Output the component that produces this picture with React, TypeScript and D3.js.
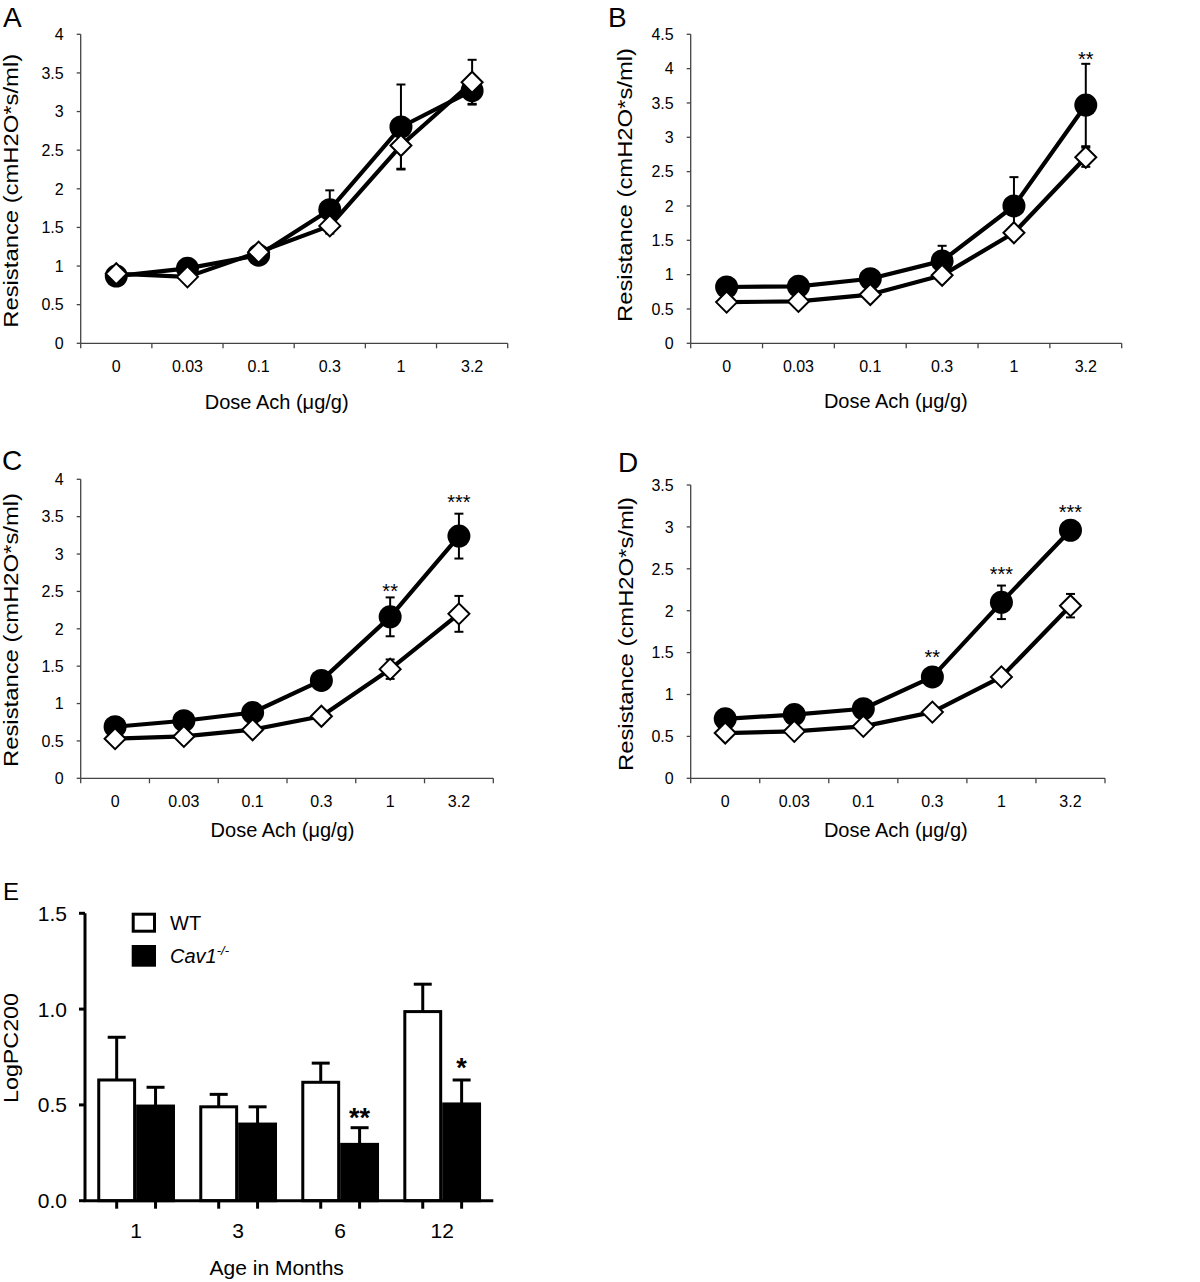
import React from 'react';
import * as d3 from 'd3';

const FONT = '"Liberation Sans", Arial, Helvetica, sans-serif';

const doses = ['0', '0.03', '0.1', '0.3', '1', '3.2'];

// Panel A
const aKO = [0.87, 0.97, 1.14, 1.73, 2.8, 3.27];
const aKOErr = [0.05, 0.05, 0.05, 0.25, 0.55, 0.17];
const aWT = [0.9, 0.86, 1.18, 1.52, 2.56, 3.38];
const aWTErr = [0.05, 0.05, 0.05, 0.1, 0.3, 0.29];
const aStars: { dose: string; text: string; y: number }[] = [];

// Panel B
const bKO = [0.82, 0.83, 0.94, 1.2, 2.0, 3.47];
const bKOErr = [0.03, 0.03, 0.05, 0.22, 0.42, 0.6];
const bWT = [0.6, 0.61, 0.71, 0.99, 1.61, 2.71];
const bWTErr = [0.03, 0.03, 0.03, 0.05, 0.07, 0.14];
const bStars = [{ dose: '3.2', text: '**', y: 4.21 }];

// Panel C
const cKO = [0.69, 0.77, 0.88, 1.31, 2.16, 3.24];
const cKOErr = [0.04, 0.04, 0.05, 0.06, 0.26, 0.3];
const cWT = [0.53, 0.56, 0.65, 0.83, 1.46, 2.2];
const cWTErr = [0.03, 0.03, 0.04, 0.05, 0.13, 0.24];
const cStars = [
  { dose: '1', text: '**', y: 2.57 },
  { dose: '3.2', text: '***', y: 3.76 },
];

// Panel D
const dKO = [0.71, 0.76, 0.83, 1.21, 2.1, 2.96];
const dKOErr = [0.04, 0.04, 0.05, 0.07, 0.2, 0.06];
const dWT = [0.54, 0.56, 0.62, 0.79, 1.21, 2.06];
const dWTErr = [0.03, 0.03, 0.04, 0.04, 0.05, 0.14];
const dStars = [
  { dose: '0.3', text: '**', y: 1.5 },
  { dose: '1', text: '***', y: 2.49 },
  { dose: '3.2', text: '***', y: 3.23 },
];

// Panel E
const ages = ['1', '3', '6', '12'];
const eWT = [0.63, 0.49, 0.618, 0.987];
const eWTErr = [0.223, 0.065, 0.1, 0.143];
const eKO = [0.494, 0.4, 0.294, 0.505];
const eKOErr = [0.098, 0.09, 0.087, 0.125];
const eStars = [
  { age: '6', text: '**', y: 0.465 },
  { age: '12', text: '*', y: 0.725 },
];
const eTicks = [0, 0.5, 1.0, 1.5];

type PanelProps = {
  letter: string;
  letterX: number;
  letterY: number;
  x0: number;
  x1: number;
  yTop: number;
  yBottom: number;
  yMax: number;
  ko: number[];
  koErr: number[];
  wt: number[];
  wtErr: number[];
  stars: { dose: string; text: string; y: number }[];
  xLabelX: number;
  xLabelY: number;
  yLabelX: number;
  yLabelY: number;
};

function DosePanel(p: PanelProps) {
  const x = d3.scaleBand<string>().domain(doses).range([p.x0, p.x1]).padding(0);
  const bw = x.bandwidth();
  const cx = (d: string) => (x(d) as number) + bw / 2;
  const y = d3.scaleLinear().domain([0, p.yMax]).range([p.yBottom, p.yTop]);
  const yTicks = d3.range(0, p.yMax + 0.001, 0.5);
  const xTickPos = doses.map((d) => x(d) as number).concat([p.x1]);
  const line = d3
    .line<number>()
    .x((_, i) => cx(doses[i]))
    .y((v) => y(v));
  const r = 11.5;
  const dd = 10.5;
  const capW = 4.5;
  const errBars = (vals: number[], errs: number[], key: string) =>
    vals.map((v, i) => {
      const xx = cx(doses[i]);
      const hi = y(v + errs[i]);
      const lo = y(v - errs[i]);
      return (
        <g key={key + i} stroke="#000" strokeWidth={2}>
          <line x1={xx} x2={xx} y1={hi} y2={lo} />
          <line x1={xx - capW} x2={xx + capW} y1={hi} y2={hi} />
          <line x1={xx - capW} x2={xx + capW} y1={lo} y2={lo} />
        </g>
      );
    });
  return (
    <g fontFamily={FONT}>
      <text x={p.letterX} y={p.letterY} fontSize={28}>
        {p.letter}
      </text>
      {/* axes */}
      <line x1={p.x0} x2={p.x0} y1={p.yTop} y2={p.yBottom} stroke="#444" strokeWidth={1.3} />
      <line x1={p.x0} x2={p.x1} y1={p.yBottom} y2={p.yBottom} stroke="#444" strokeWidth={1.3} />
      {yTicks.map((t) => (
        <g key={'yt' + t}>
          <line x1={p.x0 - 4} x2={p.x0} y1={y(t)} y2={y(t)} stroke="#444" strokeWidth={1.3} />
          <text x={p.x0 - 17} y={y(t) + 5.8} fontSize={16} textAnchor="end">
            {String(+t.toFixed(1))}
          </text>
        </g>
      ))}
      {xTickPos.map((xx, i) => (
        <line key={'xt' + i} x1={xx} x2={xx} y1={p.yBottom} y2={p.yBottom + 5} stroke="#444" strokeWidth={1.3} />
      ))}
      {doses.map((d) => (
        <text key={'xl' + d} x={cx(d)} y={p.yBottom + 29} fontSize={16} textAnchor="middle">
          {d}
        </text>
      ))}
      <text x={p.xLabelX} y={p.xLabelY} fontSize={20} textAnchor="middle">
        Dose Ach (μg/g)
      </text>
      <text
        transform={`translate(${p.yLabelX},${p.yLabelY}) rotate(-90)`}
        fontSize={20}
        textAnchor="middle"
        textLength={274}
        lengthAdjust="spacingAndGlyphs"
      >
        Resistance (cmH2O*s/ml)
      </text>
      {/* lines */}
      <path d={line(p.ko) || ''} fill="none" stroke="#000" strokeWidth={4.2} strokeLinejoin="round" />
      <path d={line(p.wt) || ''} fill="none" stroke="#000" strokeWidth={4.2} strokeLinejoin="round" />
      {errBars(p.ko, p.koErr, 'ek')}
      {errBars(p.wt, p.wtErr, 'ew')}
      {p.ko.map((v, i) => (
        <circle key={'c' + i} cx={cx(doses[i])} cy={y(v)} r={r} fill="#000" />
      ))}
      {p.wt.map((v, i) => {
        const xx = cx(doses[i]);
        const yy = y(v);
        return (
          <path
            key={'d' + i}
            d={`M${xx},${yy - dd}L${xx + dd},${yy}L${xx},${yy + dd}L${xx - dd},${yy}Z`}
            fill="#fff"
            stroke="#000"
            strokeWidth={2}
          />
        );
      })}
      {p.stars.map((s, i) => (
        <text key={'s' + i} x={cx(s.dose)} y={y(s.y) + 11.5} fontSize={20} textAnchor="middle">
          {s.text}
        </text>
      ))}
    </g>
  );
}

function BarPanel() {
  const x0 = 85;
  const x1 = 493.3;
  const yTop = 913.3;
  const yBottom = 1200.7;
  const x = d3
    .scaleBand<string>()
    .domain(ages)
    .range([x0, x1])
    .paddingInner(0.238)
    .paddingOuter(0.12);
  const sub = d3.scaleBand<string>().domain(['WT', 'KO']).range([0, x.bandwidth()]);
  const sw = sub.bandwidth();
  const y = d3.scaleLinear().domain([0, 1.5]).range([yBottom, yTop]);
  const fmt = d3.format('.1f');
  const cap = 9;
  const bars = (vals: number[], errs: number[], key: string, fill: string) =>
    vals.map((v, i) => {
      const bx = (x(ages[i]) as number) + (sub(key) as number);
      const cxm = bx + sw / 2;
      const top = y(v);
      const et = y(v + errs[i]);
      return (
        <g key={key + i}>
          <line x1={cxm} x2={cxm} y1={top} y2={et} stroke="#000" strokeWidth={3} />
          <line x1={cxm - cap} x2={cxm + cap} y1={et} y2={et} stroke="#000" strokeWidth={3} />
          <rect x={bx + 1.5} y={top} width={sw - 3} height={yBottom - top} fill={fill} stroke="#000" strokeWidth={3} />
        </g>
      );
    });
  return (
    <g fontFamily={FONT}>
      <text x={3} y={900} fontSize={24}>
        E
      </text>
      {bars(eWT, eWTErr, 'WT', '#fff')}
      {bars(eKO, eKOErr, 'KO', '#000')}
      <line x1={x0} x2={x0} y1={yTop} y2={yBottom} stroke="#000" strokeWidth={3} />
      <line x1={x0 - 1.5} x2={x1} y1={yBottom} y2={yBottom} stroke="#000" strokeWidth={3} />
      {eTicks.map((t) => (
        <g key={'et' + t}>
          <line x1={x0 - 6} x2={x0} y1={y(t)} y2={y(t)} stroke="#000" strokeWidth={3} />
          <text x={x0 - 18} y={y(t) + 7.5} fontSize={21} textAnchor="end">
            {fmt(t)}
          </text>
        </g>
      ))}
      {ages.map((a) =>
        ['WT', 'KO'].map((k) => {
          const xx = (x(a) as number) + (sub(k) as number) + sw / 2;
          return <line key={a + k} x1={xx} x2={xx} y1={yBottom} y2={yBottom + 8} stroke="#000" strokeWidth={3} />;
        })
      )}
      {ages.map((a) => (
        <text key={'al' + a} x={(x(a) as number) + x.bandwidth() / 2} y={yBottom + 37} fontSize={21} textAnchor="middle">
          {a}
        </text>
      ))}
      <text x={276.7} y={1275} fontSize={21} textAnchor="middle">
        Age in Months
      </text>
      <text
        transform={`translate(18,1048) rotate(-90)`}
        fontSize={20}
        textAnchor="middle"
        textLength={110}
        lengthAdjust="spacingAndGlyphs"
      >
        LogPC200
      </text>
      {eStars.map((s, i) => (
        <text
          key={'es' + i}
          x={(x(s.age) as number) + (sub('KO') as number) + sw / 2}
          y={y(s.y) + 15}
          fontSize={27}
          fontWeight="bold"
          textAnchor="middle"
        >
          {s.text}
        </text>
      ))}
      {/* legend */}
      <rect x={133.2} y={914.2} width={21.3} height={17} fill="#fff" stroke="#000" strokeWidth={3} />
      <text x={170} y={930} fontSize={20}>
        WT
      </text>
      <rect x={131.7} y={945} width={24.3} height={21.7} fill="#000" />
      <text x={170} y={963} fontSize={20} fontStyle="italic">
        Cav1
        <tspan fontSize={13} dy={-8}>
          -/-
        </tspan>
      </text>
    </g>
  );
}

export default function App() {
  return (
    <div style={{ position: 'absolute', left: 0, top: 0 }}>
      <svg width={1200} height={1282} viewBox="0 0 1200 1282" style={{ display: 'block', background: '#fff' }}>
        <rect x={0} y={0} width={1200} height={1282} fill="#fff" />
        <DosePanel
          letter="A" letterX={3} letterY={27}
          x0={80.7} x1={507.7} yTop={34.3} yBottom={343.3} yMax={4}
          ko={aKO} koErr={aKOErr} wt={aWT} wtErr={aWTErr} stars={aStars}
          xLabelX={276.7} xLabelY={409} yLabelX={18} yLabelY={190.8}
        />
        <DosePanel
          letter="B" letterX={608} letterY={27}
          x0={690.7} x1={1121.7} yTop={34.3} yBottom={343.3} yMax={4.5}
          ko={bKO} koErr={bKOErr} wt={bWT} wtErr={bWTErr} stars={bStars}
          xLabelX={895.8} xLabelY={408} yLabelX={632} yLabelY={185}
        />
        <DosePanel
          letter="C" letterX={2} letterY={470}
          x0={80.7} x1={493.3} yTop={479.3} yBottom={778.3} yMax={4}
          ko={cKO} koErr={cKOErr} wt={cWT} wtErr={cWTErr} stars={cStars}
          xLabelX={282.5} xLabelY={836.7} yLabelX={18} yLabelY={630}
        />
        <DosePanel
          letter="D" letterX={618} letterY={472}
          x0={690.7} x1={1105} yTop={485} yBottom={778.3} yMax={3.5}
          ko={dKO} koErr={dKOErr} wt={dWT} wtErr={dWTErr} stars={dStars}
          xLabelX={895.8} xLabelY={836.7} yLabelX={633} yLabelY={634}
        />
        <BarPanel />
      </svg>
    </div>
  );
}
